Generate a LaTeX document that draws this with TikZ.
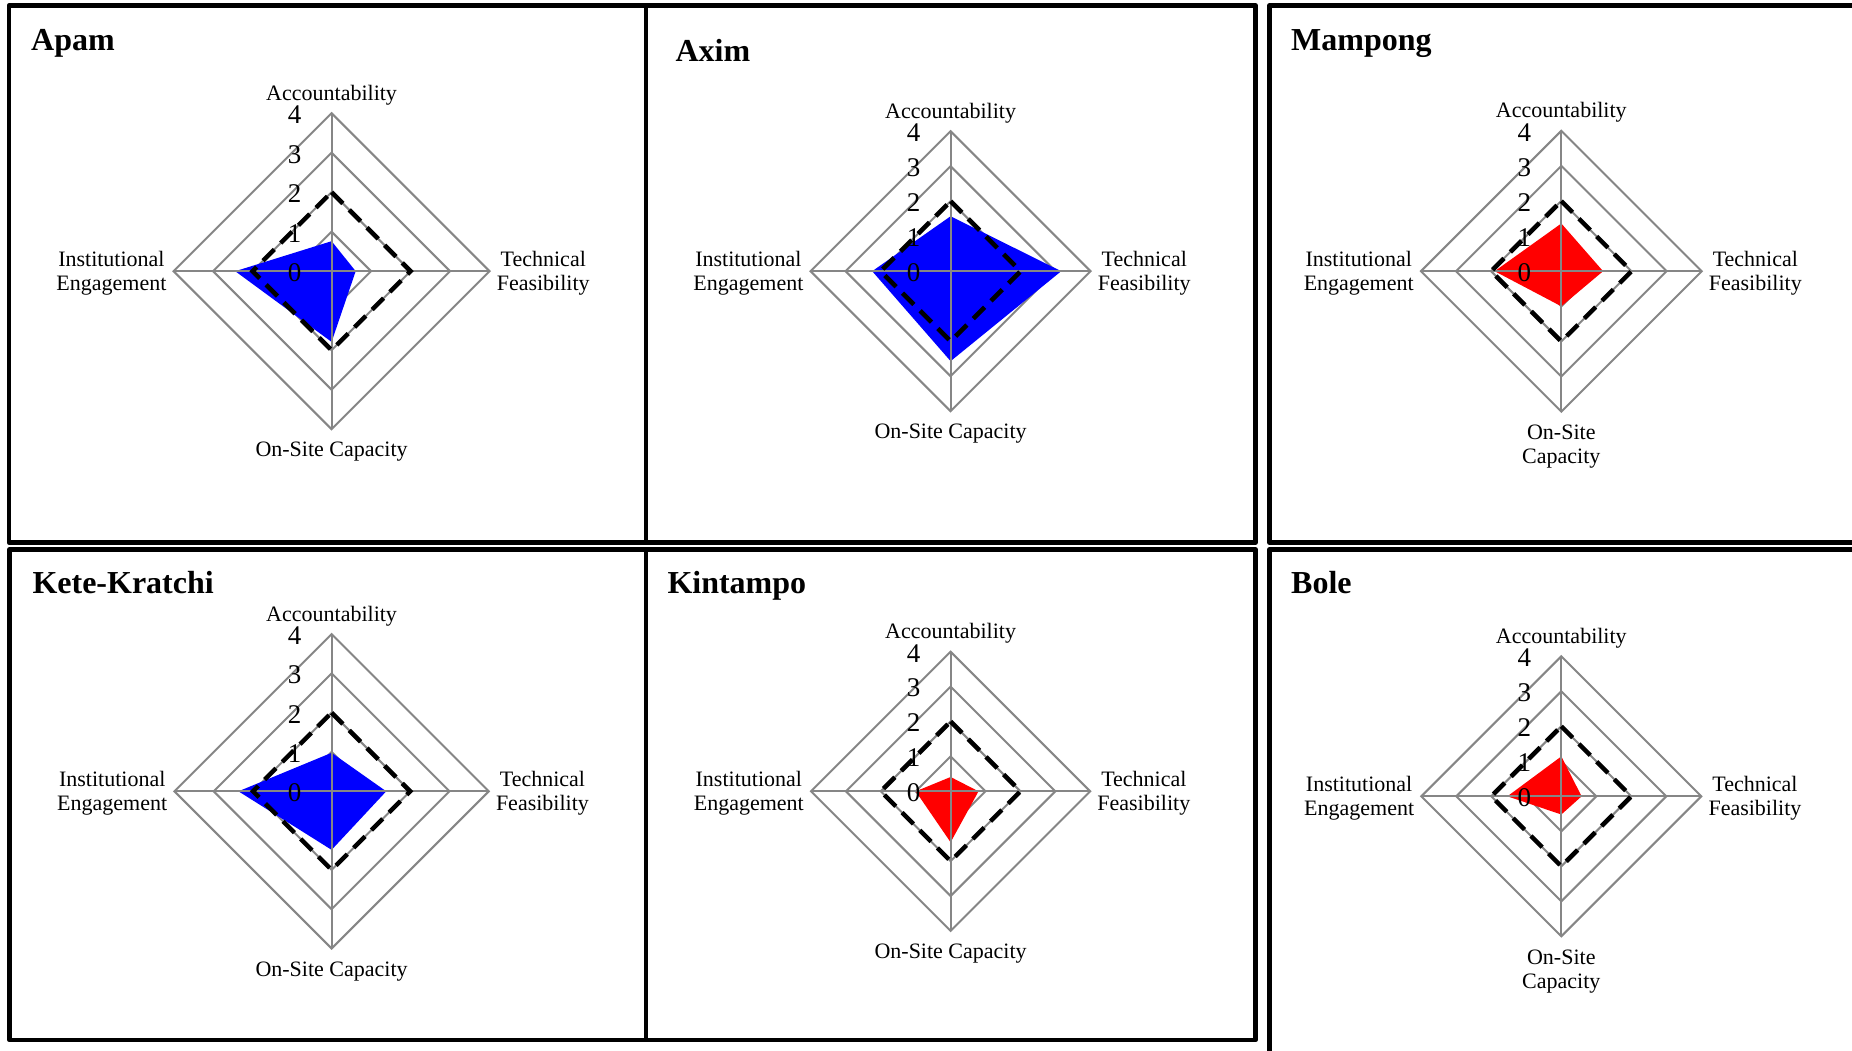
\documentclass[tikz,border=0pt]{standalone}
\usepackage{fontspec}
\setmainfont{Liberation Serif}
\definecolor{gridgray}{RGB}{134,134,134}
\definecolor{lowblue}{RGB}{0,0,255}
\definecolor{lowred}{RGB}{255,0,0}

% One radar chart: #1 name prefix, #2 centre "x,y", #3 unit per score point,
% #4 Accountability, #5 Technical Feasibility, #6 On-Site Capacity,
% #7 Institutional Engagement, #8 fill colour, #9 bottom axis label
\newcommand\radarchart[9]{%
  \begin{scope}[shift={(#2)}]
    \coordinate (#1c) at (0,0);
    \foreach \k in {1,2,3,4}
      \draw[ring] (0,-\k*#3) -- (\k*#3,0) -- (0,\k*#3) -- (-\k*#3,0) -- cycle;
    \fill[#8] (0,-#4*#3) -- (#5*#3,0) -- (0,#6*#3) -- (-#7*#3,0) -- cycle;
    \draw[ring] (0,-4*#3) -- (0,4*#3);
    \draw[ring] (-4*#3,0) -- (4*#3,0);
    \draw[target] (0,-2*#3) -- (2*#3,0) -- (0,2*#3) -- (-2*#3,0) -- cycle;
    \foreach \k in {0,...,4}
      \node[tick] (#1t\k) at (-37,-\k*#3+1.5) {\k};
    \node[axislab,anchor=base] (#1acc) at (0,-4*#3-13) {Accountability};
    \node[axislab,anchor=east] (#1inst) at (-4*#3-7,2) {Institutional\\Engagement};
    \node[axislab,anchor=west] (#1tech) at (4*#3+7,2) {Technical\\Feasibility};
    \node[axislab,anchor=north] (#1osc) at (0,4*#3+13) {#9};
  \end{scope}}

\begin{document}
\begin{tikzpicture}[x=1pt,y=-1pt,
  panel/.style={draw=black,line width=4.5pt,line join=round},
  ring/.style={draw=gridgray,line width=2pt},
  target/.style={draw=black,line width=4.5pt,dash pattern=on 16pt off 9pt},
  axislab/.style={font=\fontsize{22}{24.6}\selectfont,inner sep=0pt,align=center},
  tick/.style={font=\fontsize{27}{27}\selectfont,inner sep=0pt},
  title/.style={font=\bfseries\fontsize{32}{32}\selectfont,inner sep=0pt,anchor=base west}]

\useasboundingbox (0,0) rectangle (1852,1050);
\clip (0,0) rectangle (1852,1050);
\fill[white] (0,0) rectangle (1852,1050);

% panel frames
\draw[panel] (9,5.5) rectangle (646,542.5);
\draw[panel] (646,5.5) rectangle (1255.5,542.5);
\draw[panel] (1269.5,5.5) rectangle (1854,542.5);
\draw[panel] (9.5,549.5) rectangle (646,1040);
\draw[panel] (646,549.5) rectangle (1255.5,1040);
\draw[panel] (1269.5,549.5) rectangle (1854,1053);

% district charts
\radarchart{apam}{331.6,271.2}{39.5}{0.76}{0.61}{1.79}{2.44}{lowblue}{On-Site Capacity}
\radarchart{axim}{950.6,271.2}{35}{1.57}{3.16}{2.57}{2.24}{lowblue}{On-Site Capacity}
\radarchart{mampong}{1561.3,271.2}{35.1}{1.36}{1.19}{1.0}{1.9}{lowred}{On-Site\\Capacity}
\radarchart{kete}{331.6,791.3}{39.3}{0.98}{1.39}{1.49}{2.37}{lowblue}{On-Site Capacity}
\radarchart{kintampo}{950.6,791.3}{34.9}{0.41}{0.8}{1.46}{1.0}{lowred}{On-Site Capacity}
\radarchart{bole}{1561.3,796.3}{35}{1.14}{0.58}{0.52}{1.54}{lowred}{On-Site\\Capacity}

% district names
\node[title] (tApam) at (31,50.9) {Apam};
\node[title] (tAxim) at (675.4,61.4) {Axim};
\node[title] (tMampong) at (1291,50.9) {Mampong};
\node[title] (tKete) at (32.3,593) {Kete-Kratchi};
\node[title] (tKintampo) at (667.3,593) {Kintampo};
\node[title] (tBole) at (1291,593) {Bole};
\end{tikzpicture}
\end{document}
